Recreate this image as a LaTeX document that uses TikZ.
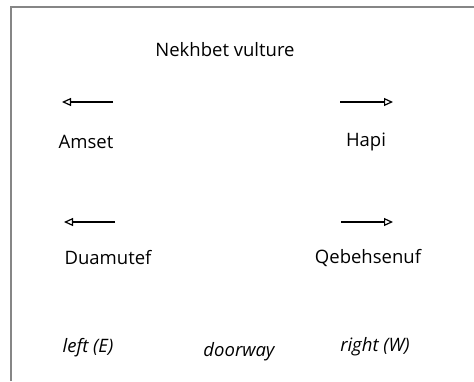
\documentclass[tikz,border=0pt]{standalone}
\usepackage{fontspec}
\setmainfont{Open Sans}
\usetikzlibrary{arrows.meta}
\begin{document}
\begin{tikzpicture}[x=1pt,y=-1pt,
  lbl/.style={inner sep=0pt,font=\fontsize{18.5}{22}\selectfont},
  ilbl/.style={lbl,font=\fontsize{18.5}{22}\selectfont\itshape},
  dir/.style={line width=1.3pt,-{Triangle[open,length=9pt 0,width=8pt 0,line width=1.2pt]}},
  frame/.style={draw=gray!95,line width=2pt}]
\useasboundingbox (0,0) rectangle (474,381);
\draw[frame] (11,381) -- (11,7) -- (474,7);
\node[lbl] (nek) at (225,50) {Nekhbet vulture};
\coordinate (a1s) at (113,102); \coordinate (a1e) at (62,102);
\coordinate (a2s) at (340,102); \coordinate (a2e) at (393,102);
\coordinate (a3s) at (115,222); \coordinate (a3e) at (64,222);
\coordinate (a4s) at (341,222); \coordinate (a4e) at (393,222);
\draw[dir] (a1s) -- (a1e);
\draw[dir] (a2s) -- (a2e);
\draw[dir] (a3s) -- (a3e);
\draw[dir] (a4s) -- (a4e);
\node[lbl] (amset) at (86,142) {Amset};
\node[lbl] (hapi) at (366,142) {Hapi};
\node[lbl] (dua) at (108,258) {Duamutef};
\node[lbl] (qeb) at (368,258) {Qebehsenuf};
\node[ilbl] (left) at (88,348) {left (E)};
\node[ilbl] (door) at (239,352) {doorway};
\node[ilbl] (right) at (375,347) {right (W)};
\end{tikzpicture}
\end{document}
